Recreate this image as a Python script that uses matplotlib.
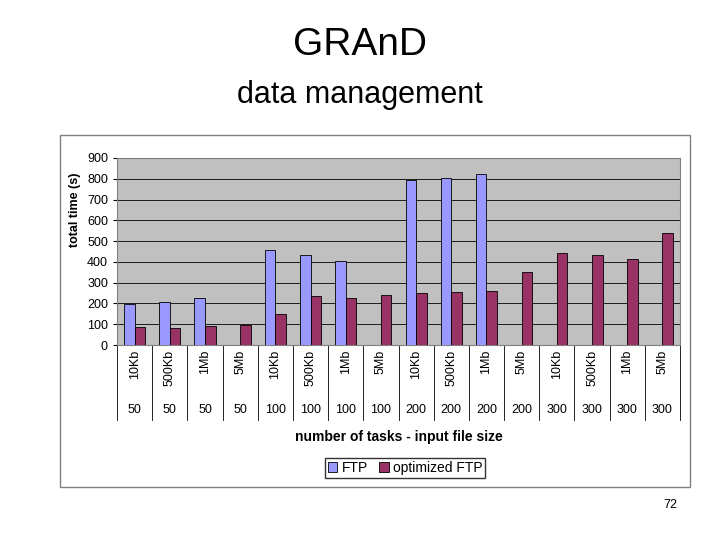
import numpy as np
import matplotlib.pyplot as plt
from matplotlib.patches import Rectangle
from matplotlib.transforms import blended_transform_factory

plt.rcParams["font.family"] = ["Liberation Sans", "DejaVu Sans"]

sizes = ["10Kb", "500Kb", "1Mb", "5Mb"] * 4
tasks = ["50"] * 4 + ["100"] * 4 + ["200"] * 4 + ["300"] * 4
ftp = [195, 205, 225, 0, 455, 435, 405, 0, 795, 805, 825, 0, 0, 0, 0, 0]
opt_ftp = [85, 80, 90, 95, 150, 235, 225, 240, 250, 255, 260, 350, 445, 435, 415, 540]

W, H = 720, 540
fig = plt.figure(figsize=(7.2, 5.4), dpi=100)
fig.text(360 / W, 1 - 45 / H, "GRAnD", ha="center", va="center", fontsize=28)
fig.text(360 / W, 1 - 95 / H, "data management", ha="center", va="center", fontsize=22)
fig.text(670 / W, 1 - 505 / H, "72", ha="center", va="center", fontsize=9)

# chart frame
fig.patches.append(Rectangle((60 / W, 1 - 487 / H), 630 / W, 352 / H, transform=fig.transFigure,
                             fill=False, edgecolor="#808080", linewidth=1))

ax = fig.add_axes([117 / W, 1 - 345 / H, 563 / W, 187 / H])
ax.set_facecolor("#C0C0C0")
x = np.arange(len(sizes))
bw = 0.3
ax.bar(x - bw / 2, ftp, bw, color="#9999FF", edgecolor="black", linewidth=0.6, label="FTP", zorder=3)
ax.bar(x + bw / 2, opt_ftp, bw, color="#993366", edgecolor="black", linewidth=0.6,
       label="optimized FTP", zorder=3)
ax.set_xlim(-0.5, len(sizes) - 0.5)
ax.set_ylim(0, 900)
ax.set_yticks(range(0, 901, 100))
ax.tick_params(axis="y", labelsize=9, length=3)
ax.set_xticks([])
ax.yaxis.grid(True, color="black", linewidth=0.6, zorder=0)
for s in ax.spines.values():
    s.set_color("#808080")

tr = blended_transform_factory(ax.transData, ax.transAxes)
px = 1 / 187  # one pixel in axes fraction (vertical)
for i in range(len(sizes)):
    ax.text(i, -5 * px, sizes[i], rotation=90, ha="center", va="top", fontsize=9, transform=tr)
    ax.text(i, -65 * px, tasks[i], ha="center", va="center", fontsize=9, transform=tr)
for i in range(len(sizes) + 1):
    ax.plot([i - 0.5, i - 0.5], [0, -75 * px], color="black", linewidth=0.6,
            transform=tr, clip_on=False)

ax.text(0.5, -92 * px, "number of tasks - input file size", ha="center", va="center",
        fontsize=10, fontweight="bold", transform=ax.transAxes)
fig.text(75 / W, 1 - 210 / H, "total time (s)", rotation=90, ha="center", va="center",
         fontsize=9, fontweight="bold")

fig.legend(loc="center", bbox_to_anchor=(405 / W, 1 - 468 / H), ncol=2, fontsize=10,
           frameon=True, fancybox=False, edgecolor="black", handlelength=0.7,
           handletextpad=0.3, columnspacing=0.8, borderpad=0.2)

fig.savefig("out.png", dpi=100)
